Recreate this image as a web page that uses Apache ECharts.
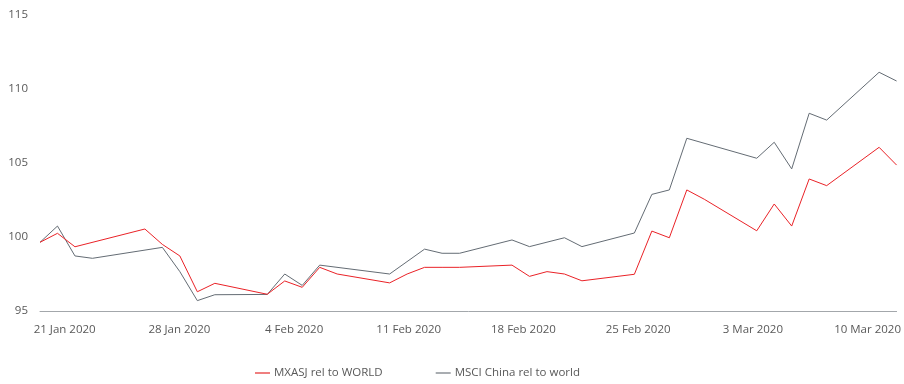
<!DOCTYPE html>
<html>
<head>
<meta charset="utf-8">
<script src="https://cdn.jsdelivr.net/npm/echarts@6/dist/echarts.min.js"></script>
<style>
html,body{margin:0;padding:0;background:#fff;}
#chart{width:904px;height:384px;}
</style>
</head>
<body>
<div id="chart"></div>
<script>
// Trading days
var dates = ['2020-01-21','2020-01-22','2020-01-23','2020-01-24','2020-01-27','2020-01-28','2020-01-29','2020-01-30','2020-01-31',
 '2020-02-03','2020-02-04','2020-02-05','2020-02-06','2020-02-07','2020-02-10','2020-02-11','2020-02-12','2020-02-13','2020-02-14',
 '2020-02-17','2020-02-18','2020-02-19','2020-02-20','2020-02-21','2020-02-24','2020-02-25','2020-02-26','2020-02-27','2020-02-28',
 '2020-03-02','2020-03-03','2020-03-04','2020-03-05','2020-03-06','2020-03-09','2020-03-10'];

var mxasj = [99.64,100.25,99.34,null,100.54,99.5,98.72,96.3,96.87,
 96.13,97.03,96.6,97.95,97.5,96.9,97.5,97.95,97.95,97.95,
 98.1,97.34,97.66,97.5,97.04,97.48,100.4,99.95,103.18,102.55,
 100.42,102.23,100.74,103.92,103.47,106.06,104.86];

var msciChina = [99.64,100.74,98.72,98.56,null,99.3,97.66,95.7,96.1,
 96.12,97.5,96.73,98.1,null,97.5,null,99.18,98.9,98.9,
 99.8,99.35,null,99.95,99.35,100.27,102.88,103.18,106.67,null,
 105.32,106.4,104.6,108.36,107.9,111.13,110.54];

var tickLabels = ['21 Jan 2020','28 Jan 2020','4 Feb 2020','11 Feb 2020','18 Feb 2020','25 Feb 2020','3 Mar 2020','10 Mar 2020'];
var yTicks = [95,100,105,110,115];

var seriesNames = ['MXASJ rel to WORLD','MSCI China rel to world'];

function pairs(vals){
  var out = [];
  for (var i = 0; i < dates.length; i++) {
    if (vals[i] !== null) out.push([dates[i], vals[i]]);
  }
  return out;
}

var FONT = '"Open Sans", "Noto Sans", sans-serif';
var FS = 11.5;
var TXT = '#595959';
var RED = '#ea2227';
var GRAY = '#646c74';

var chart = echarts.init(document.getElementById('chart'), null, {renderer:'canvas'});
chart.setOption({
  animation: false,
  backgroundColor: '#ffffff',
  textStyle: {fontFamily: FONT},
  grid: {left: 40, right: 7, top: 15, bottom: 73, containLabel: false},
  legend: {
    left: 250, top: 362,
    itemWidth: 15, itemHeight: 2, itemGap: 53,
    icon: 'rect',
    textStyle: {color: TXT, fontSize: FS, fontFamily: FONT, padding: [0,0,0,-1]},
    data: [
      {name: seriesNames[0], itemStyle: {color: '#ef7f7f'}},
      {name: seriesNames[1], itemStyle: {color: '#a9adb1'}}
    ]
  },
  xAxis: [
    {
      type: 'time',
      min: dates[0], max: dates[dates.length-1],
      axisLine: {show: true, lineStyle: {color: '#a3a7ab', width: 1}},
      axisTick: {show: false},
      axisLabel: {show: false},
      splitLine: {show: false}
    },
    {
      type: 'value',
      position: 'bottom',
      min: -0.215, max: 7.253,
      axisLine: {show: false},
      axisTick: {show: false},
      splitLine: {show: false},
      axisLabel: {
        show: true,
        customValues: tickLabels.map(function(_, i){ return i; }),
        formatter: function(v){ return tickLabels[Math.round(v)] || ''; },
        color: TXT, fontSize: FS, fontFamily: FONT, margin: 13
      }
    }
  ],
  yAxis: {
    type: 'value',
    min: yTicks[0], max: yTicks[yTicks.length-1], interval: 5,
    axisLine: {show: false},
    axisTick: {show: false},
    splitLine: {show: false},
    axisLabel: {color: TXT, fontSize: FS, fontFamily: FONT, margin: 12}
  },
  series: [
    {
      name: seriesNames[0], type: 'line', xAxisIndex: 0,
      data: pairs(mxasj), showSymbol: false, symbol: 'none',
      connectNulls: true,
      lineStyle: {color: RED, width: 1}, itemStyle: {color: RED}, z: 3
    },
    {
      name: seriesNames[1], type: 'line', xAxisIndex: 0,
      data: pairs(msciChina), showSymbol: false, symbol: 'none',
      connectNulls: true,
      lineStyle: {color: GRAY, width: 1}, itemStyle: {color: GRAY}, z: 2
    }
  ]
});
</script>
</body>
</html>
